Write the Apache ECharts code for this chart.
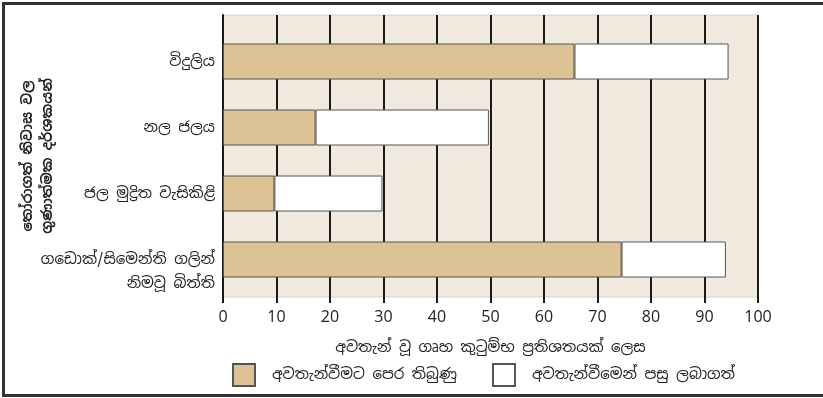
<!DOCTYPE html>
<html><head><meta charset="utf-8">
<script src="https://cdn.jsdelivr.net/npm/echarts@6/dist/echarts.min.js"></script>
<style>html,body{margin:0;padding:0;background:#fff;}#c{width:823px;height:398px;}</style>
</head><body><div id="c"></div>
<script>
const categories = ['විදුලිය', 'නල ජලය', 'ජල මුද්‍රිත වැසිකිළි', 'ගඩොක්/සිමෙන්ති ගලින්\nනිමවූ බිත්ති'];
const beforeValues = [65.7, 17.3, 9.6, 74.5];
const afterValues = [28.8, 32.4, 20.2, 19.5];
const seriesNames = ['අවතැන්වීමට පෙර තිබුණු', 'අවතැන්වීමෙන් පසු ලබාගත්'];
const xTitle = 'අවතැන් වූ ගෘහ කුටුම්භ ප්‍රතිශතයක් ලෙස';
const yTitle = 'තෝරාගත් නිවාස වල\nගුණාත්මක දර්ශකයන්';

const FONT = '"Noto Sans Sinhala", "Noto Sans", "DejaVu Sans", sans-serif';
const chart = echarts.init(document.getElementById('c'), null, {renderer: 'canvas'});
chart.setOption({
  animation: false,
  backgroundColor: '#fff',
  textStyle: {fontFamily: FONT},
  graphic: [{
    type: 'rect', silent: true, z: 100,
    shape: {x: 3.5, y: 3.5, width: 830, height: 392},
    style: {fill: null, stroke: '#333', lineWidth: 3}
  }],
  grid: [
    {left: 223, right: 65, top: 28.5, bottom: 105.5, outerBoundsMode: 'none', containLabel: false},
    {left: 223, right: 65, top: 15, bottom: 101, outerBoundsMode: 'none', containLabel: false,
     show: true, backgroundColor: '#f1e9de', borderColor: '#d8d4cc', borderWidth: 1}
  ],
  legend: {
    left: 227, top: 358, itemWidth: 22, itemHeight: 22, itemGap: 35,
    icon: 'rect',
    textStyle: {fontSize: 15, color: '#222', fontFamily: FONT, padding: [0, 0, 0, 12]},
    data: seriesNames
  },
  xAxis: [
    {gridIndex: 0, type: 'value', min: 0, max: 100, show: false},
    {gridIndex: 1, type: 'value', min: 0, max: 100, interval: 10,
     axisLine: {show: false},
     axisTick: {show: true, length: 6, lineStyle: {color: '#1a1a1a', width: 2}},
     splitLine: {show: true, lineStyle: {color: '#1a1a1a', width: 2}},
     axisLabel: {fontSize: 16, color: '#222', margin: 12, fontFamily: '"Open Sans", "Noto Sans", sans-serif'},
     name: xTitle, nameLocation: 'middle', nameGap: 43,
     nameTextStyle: {fontSize: 15, color: '#222', fontFamily: FONT}
    }
  ],
  yAxis: [
    {gridIndex: 0, type: 'category', data: categories, inverse: true,
     axisLine: {show: false}, axisTick: {show: false},
     axisLabel: {fontSize: 15, color: '#222', margin: 8, lineHeight: 24, fontFamily: FONT,
       formatter: function (v) { return v.indexOf('\n') >= 0 ? ' \n' + v : v; }}
    },
    {gridIndex: 1, type: 'value', min: 0, max: 1,
     axisLine: {show: true, lineStyle: {color: '#1a1a1a', width: 2}},
     axisTick: {show: false}, axisLabel: {show: false}, splitLine: {show: false},
     name: yTitle, nameLocation: 'middle', nameRotate: 90, nameGap: 165,
     nameTextStyle: {fontSize: 14, fontWeight: 'bold', color: '#222', lineHeight: 20, fontFamily: FONT}
    }
  ],
  series: [
    {name: seriesNames[0], type: 'bar', stack: 's', xAxisIndex: 0, yAxisIndex: 0, barWidth: 36,
     itemStyle: {color: '#dcc294', borderColor: '#555', borderWidth: 1}, data: beforeValues},
    {name: seriesNames[1], type: 'bar', stack: 's', xAxisIndex: 0, yAxisIndex: 0, barWidth: 36,
     itemStyle: {color: '#ffffff', borderColor: '#555', borderWidth: 1}, data: afterValues}
  ]
});
</script></body></html>
